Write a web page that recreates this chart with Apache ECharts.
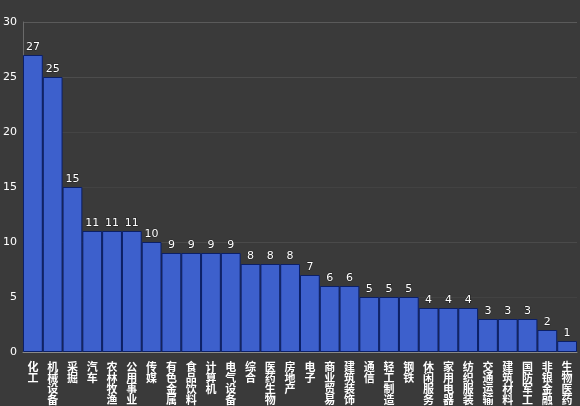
<!DOCTYPE html>
<html><head><meta charset="utf-8">
<script src="https://cdn.jsdelivr.net/npm/echarts@6/dist/echarts.min.js"></script>
<style>html,body{margin:0;padding:0;background:#3a3a3a;}#c{width:580px;height:406px;}</style>
</head><body><div id="c"></div>
<script>
const categories = ['化工','机械设备','采掘','汽车','农林牧渔','公用事业','传媒','有色金属','食品饮料','计算机','电气设备','综合','医药生物','房地产','电子','商业贸易','建筑装饰','通信','轻工制造','钢铁','休闲服务','家用电器','纺织服装','交通运输','建筑材料','国防军工','非银金融','生物医药'];
const values = [27,25,15,11,11,11,10,9,9,9,9,8,8,8,7,6,6,5,5,5,4,4,4,3,3,3,2,1];
const yTicks = [0,5,10,15,20,25,30];

const chart = echarts.init(document.getElementById('c'));
chart.setOption({
  backgroundColor: '#3a3a3a',
  animation: false,
  grid: {left: 20, right: 3, top: 22, bottom: 54},
  xAxis: {
    type: 'category', data: categories,
    axisLine: {lineStyle: {color: '#8a8a8a', width: 1}},
    axisTick: {show: false},
    axisLabel: {
      interval: 0, margin: 9, hideOverlap: false,
      formatter: v => '{a|' + v.split('').join('}\n{a|') + '}',
      rich: {a: {color: '#ffffff', fontSize: 11, lineHeight: 11, fontWeight: 'bold', fontFamily: 'Noto Sans CJK SC', width: 12, align: 'center'}},
      verticalAlign: 'top'
    }
  },
  yAxis: {
    type: 'value', min: yTicks[0], max: yTicks[yTicks.length-1], interval: 5,
    axisLine: {show: true, lineStyle: {color: '#6a6a6a', width: 1}},
    axisTick: {show: false},
    axisLabel: {color: '#ffffff', fontSize: 11, margin: 6, fontFamily: 'DejaVu Sans'},
    splitLine: {show: true, lineStyle: {color: ['#3a3a3a','#424242','#4a4a4a','#424242','#444','#4c4c4c','#5a5a5a'], width: 1}}
  },
  series: [{
    type: 'bar', data: values, barCategoryGap: '0%',
    itemStyle: {color: '#3d60cc', borderColor: '#0b1f66', borderWidth: 1},
    label: {show: true, position: 'top', color: '#ffffff', fontSize: 11, distance: 2, fontFamily: 'DejaVu Sans', textBorderColor: '#222', textBorderWidth: 1}
  }]
});
</script></body></html>
